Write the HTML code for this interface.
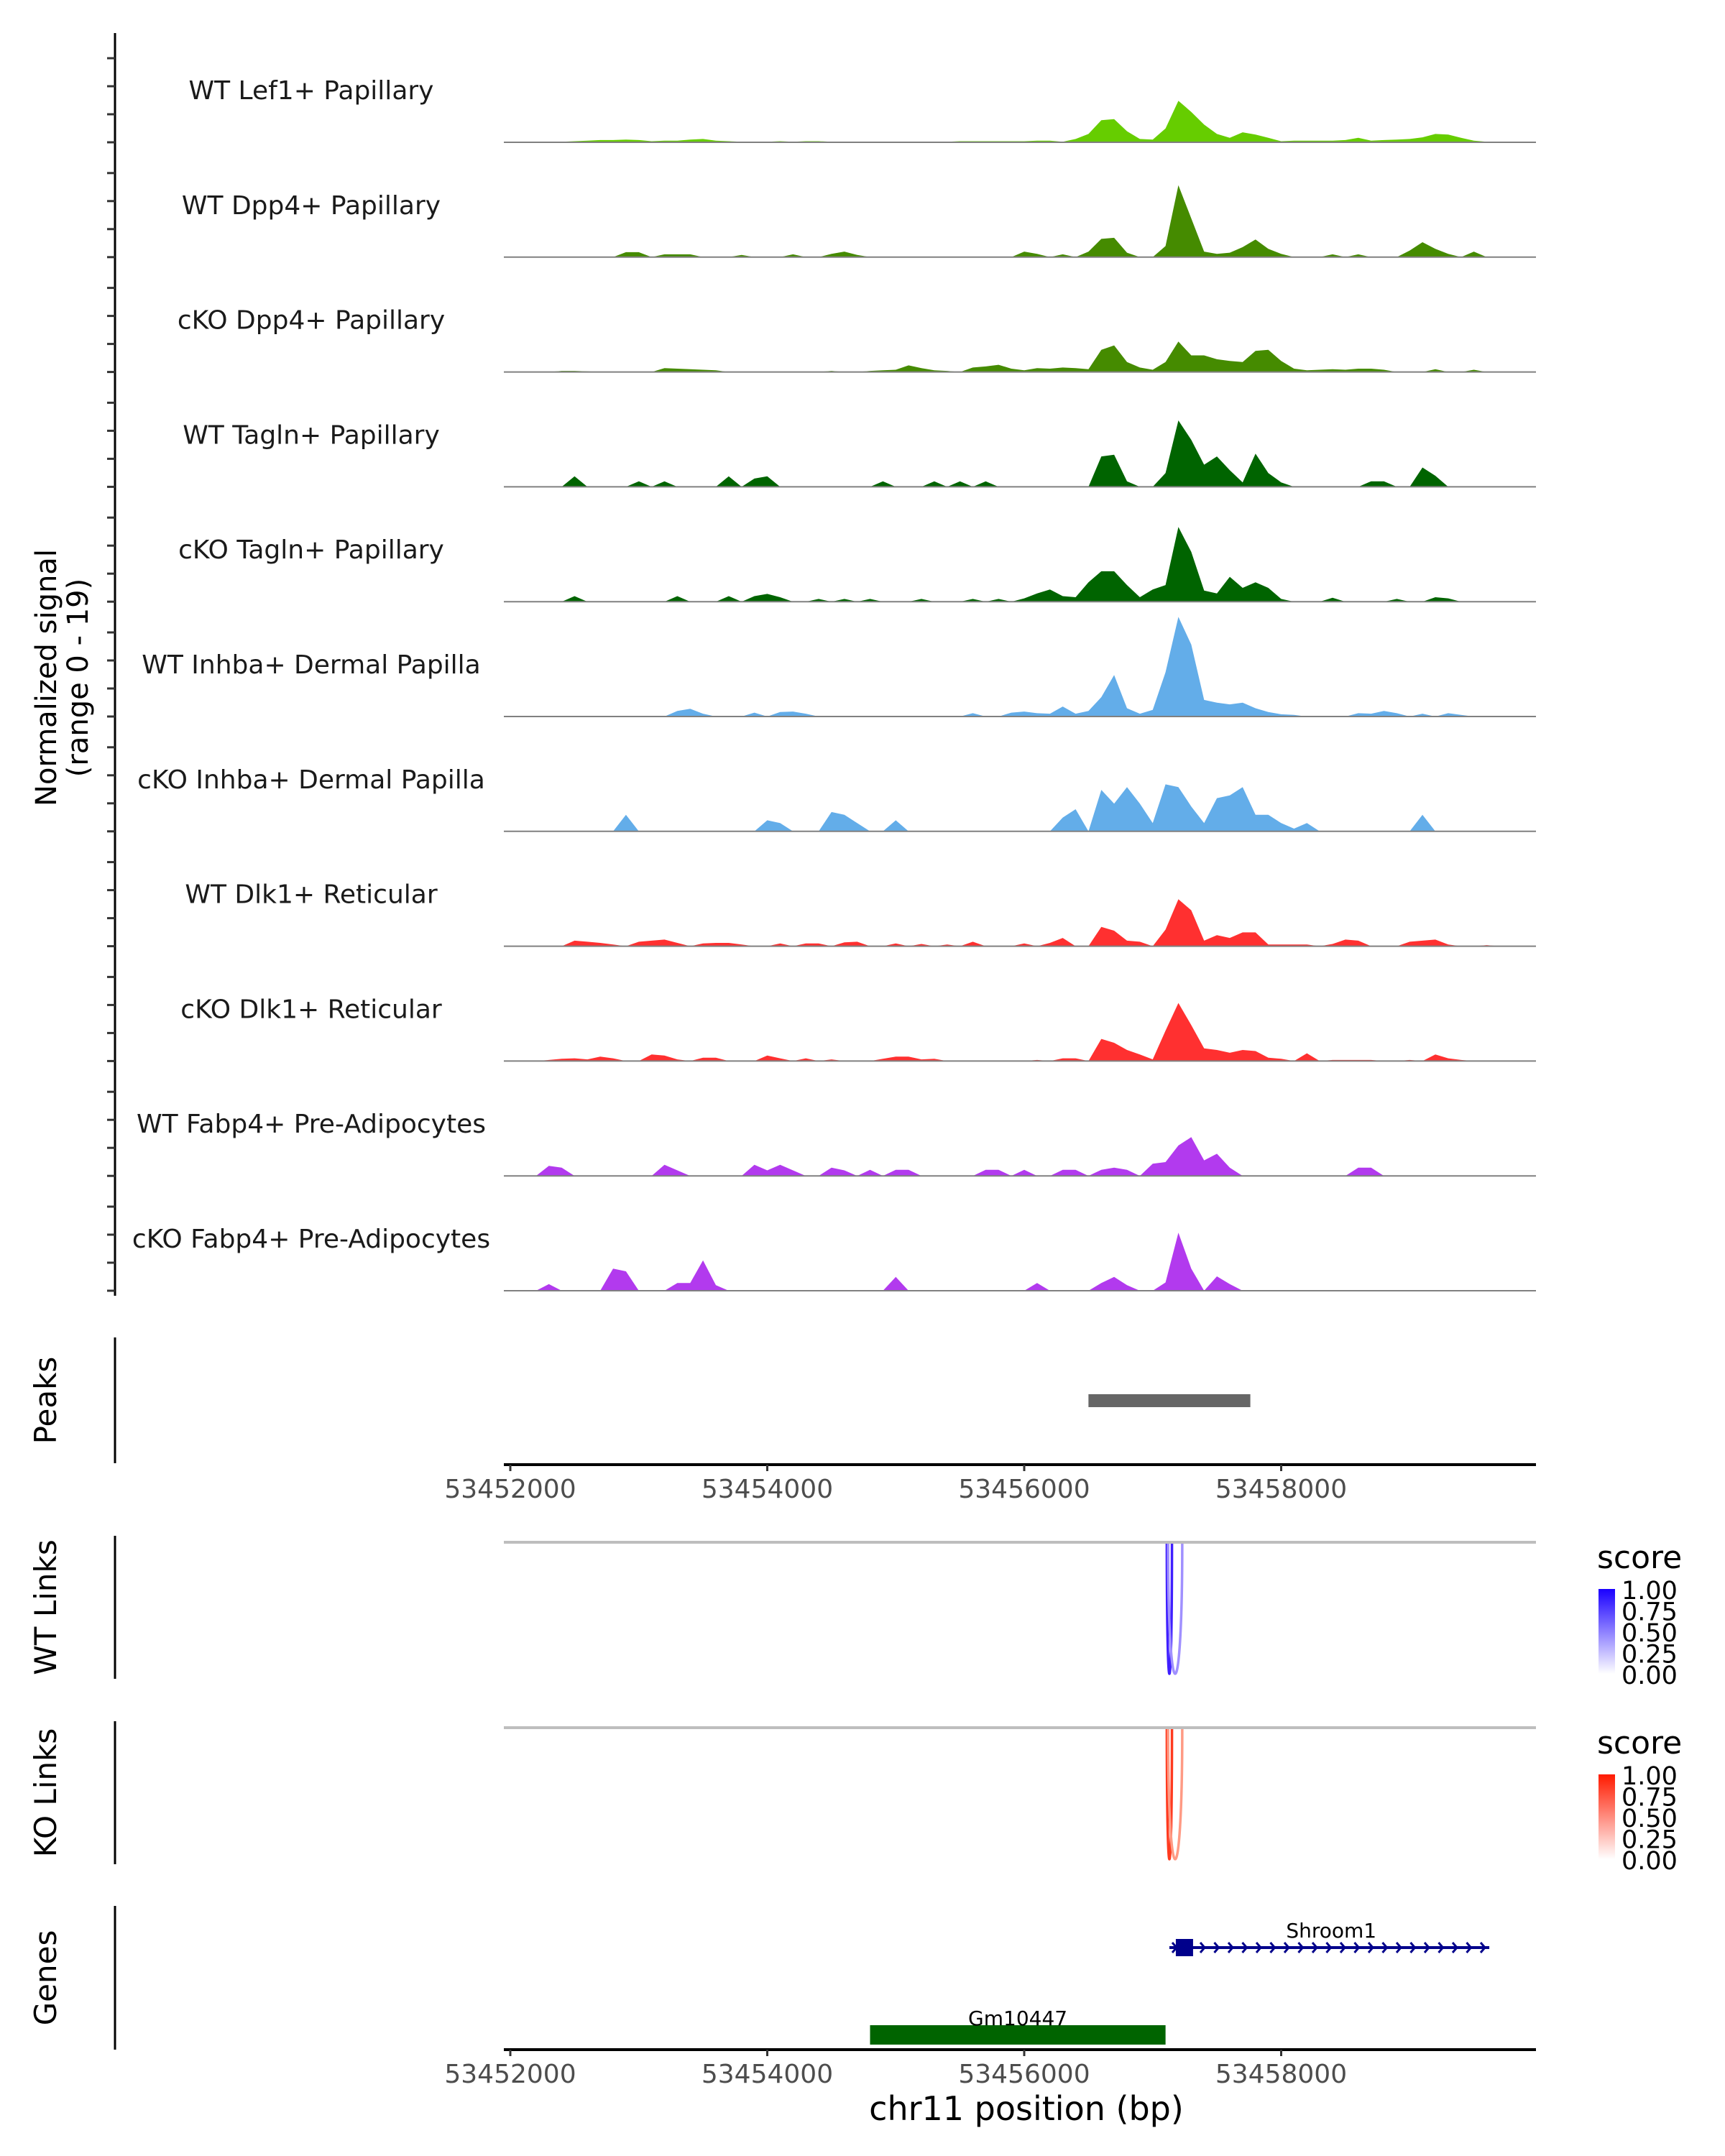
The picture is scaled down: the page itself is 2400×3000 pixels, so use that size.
<!DOCTYPE html>
<html><head><meta charset="utf-8"><style>
html,body{margin:0;padding:0;background:#fff;}
svg{display:block;font-family:"DejaVu Sans","Liberation Sans",sans-serif;}
</style></head><body>
<svg id="chart" width="2400" height="3000" viewBox="0 0 2400 3000" xmlns="http://www.w3.org/2000/svg">
<defs>
<linearGradient id="gBlue" x1="0" y1="1" x2="0" y2="0"><stop offset="0" stop-color="#ffffff"/><stop offset="1" stop-color="#1a00ff"/></linearGradient>
<linearGradient id="gRed" x1="0" y1="1" x2="0" y2="0"><stop offset="0" stop-color="#ffffff"/><stop offset="1" stop-color="#ff1a00"/></linearGradient>
</defs>
<g id="tracks"></g>
<g id="lower"></g>
</svg>
<script>
const trackNames = ["WT Lef1+ Papillary","WT Dpp4+ Papillary","cKO Dpp4+ Papillary","WT Tagln+ Papillary","cKO Tagln+ Papillary","WT Inhba+ Dermal Papilla","cKO Inhba+ Dermal Papilla","WT Dlk1+ Reticular","cKO Dlk1+ Reticular","WT Fabp4+ Pre-Adipocytes","cKO Fabp4+ Pre-Adipocytes"];
const binStart = 53452000;
const binSize = 100;
const sigWtLef1 = [0,0,0,0.1,0.1,0.2,0.3,0.4,0.4,0.5, 0.4,0.2,0.3,0.3,0.5,0.6,0.3,0.2,0.1,0.1, 0.1,0.2,0.1,0.2,0.2,0.1,0.1,0.1,0.1,0.1, 0.1,0.1,0.1,0.1,0.1,0.2,0.2,0.2,0.2,0.2, 0.2,0.3,0.3,0.1,0.6,1.5,4.0,4.2,2.0,0.6, 0.5,2.5,7.5,5.5,3.2,1.5,0.8,1.8,1.4,0.8, 0.2,0.3,0.3,0.3,0.3,0.4,0.8,0.3,0.4,0.5, 0.6,0.9,1.5,1.4,0.8,0.3,0.1,0];
const sigWtDpp4 = [0,0,0,0,0,0,0,0,0,0.9, 0.9,0,0.5,0.5,0.5,0,0,0,0.4,0, 0,0,0.5,0,0,0.6,1.0,0.4,0,0, 0,0,0,0,0,0,0,0,0,0, 1.0,0.6,0,0.5,0,1.0,3.3,3.5,0.8,0, 0,2.0,13.0,7.0,1.0,0.6,0.8,1.8,3.2,1.5, 0.6,0,0,0,0.5,0,0.5,0,0,0, 1.2,2.7,1.5,0.6,0,1.0,0,0];
const sigKoDpp4 = [0,0,0,0,0.2,0.2,0.1,0,0,0, 0,0,0.7,0.6,0.5,0.4,0.3,0,0,0, 0,0,0,0,0,0.2,0,0,0.2,0.3, 0.4,1.2,0.7,0.3,0.2,0,0.8,1.0,1.3,0.6, 0.3,0.7,0.6,0.8,0.7,0.5,4.0,4.8,1.8,0.8, 0.4,1.8,5.5,3.0,3.0,2.3,2.0,1.8,3.8,4.0, 2.0,0.6,0.3,0.4,0.5,0.4,0.6,0.6,0.4,0, 0,0,0.5,0,0,0.4,0,0];
const sigWtTagln = [0,0,0,0,0,1.9,0,0,0,0, 1.0,0,1.0,0,0,0,0,1.9,0,1.5, 1.9,0,0,0,0,0,0,0,0,1.0, 0,0,0,1.0,0,1.0,0,1.0,0,0, 0,0,0,0,0,0,5.5,5.8,1.0,0, 0,2.5,12.0,8.5,4.0,5.5,3.0,0.8,6.0,2.5, 0.8,0,0,0,0,0,0,1.0,1.0,0, 0,3.5,2.0,0,0,0,0,0];
const sigKoTagln = [0,0,0,0,0,1.0,0,0,0,0, 0,0,0,1.0,0,0,0,1.0,0,1.0, 1.4,0.8,0,0,0.5,0,0.5,0,0.5,0, 0,0,0.5,0,0,0,0.5,0,0.5,0, 0.6,1.5,2.2,1.0,0.8,3.5,5.5,5.5,3.0,0.8, 2.2,3.0,13.5,9.0,2.0,1.5,4.5,2.5,3.5,2.5, 0.5,0,0,0,0.7,0,0,0,0,0.5, 0,0,0.8,0.6,0,0,0,0];
const sigWtInhba = [0,0,0,0,0,0,0,0,0,0, 0,0,0,1.0,1.4,0.5,0,0,0,0.7, 0,0.8,0.9,0.5,0,0,0,0,0,0, 0,0,0,0,0,0,0.6,0,0,0.7, 0.9,0.6,0.5,1.8,0.5,1.0,3.5,7.5,1.5,0.5, 1.2,8.0,18.0,13.0,3.0,2.5,2.2,2.5,1.5,0.8, 0.4,0.3,0,0,0,0,0.6,0.5,1.0,0.6, 0,0.5,0,0.6,0.3,0,0,0];
const sigKoInhba = [0,0,0,0,0,0,0,0,0,3.0, 0,0,0,0,0,0,0,0,0,0, 2.0,1.5,0,0,0,3.5,3.0,1.5,0,0, 2.0,0,0,0,0,0,0,0,0,0, 0,0,0,2.5,4.0,0,7.5,5.0,8.0,5.0, 1.5,8.5,8.0,4.5,1.5,6.0,6.5,8.0,3.0,3.0, 1.5,0.5,1.5,0,0,0,0,0,0,0, 0,3.0,0,0,0,0,0,0];
const sigWtDlk1 = [0,0,0,0,0,1.0,0.8,0.6,0.3,0, 0.8,1.0,1.2,0.6,0,0.5,0.6,0.6,0.3,0, 0,0.5,0,0.5,0.5,0,0.7,0.8,0,0, 0.5,0,0.4,0,0.3,0,0.8,0,0,0, 0.5,0,0.6,1.5,0,0,3.5,2.8,1.0,0.8, 0,3.0,8.5,6.5,1.0,2.0,1.5,2.5,2.5,0.3, 0.3,0.3,0.3,0,0.4,1.2,1.0,0,0,0, 0.8,1.0,1.2,0.3,0,0,0.2,0];
const sigKoDlk1 = [0,0,0,0.2,0.4,0.5,0.3,0.8,0.5,0, 0,1.2,1.0,0.3,0,0.6,0.6,0,0,0, 1.0,0.5,0,0.5,0,0.3,0,0,0,0.4, 0.8,0.8,0.3,0.4,0,0,0,0,0,0, 0,0.2,0,0.5,0.5,0,4.0,3.3,2.0,1.2, 0.3,5.5,10.5,6.5,2.3,2.0,1.5,2.0,1.8,0.6, 0.4,0,1.4,0,0.2,0.2,0.2,0.2,0,0, 0.2,0,1.2,0.5,0.2,0,0,0];
const sigWtFabp4 = [0,0,0,1.8,1.5,0,0,0,0,0, 0,0,2.0,1.0,0,0,0,0,0,2.0, 1.0,2.0,1.0,0,0,1.5,1.0,0,1.1,0, 1.1,1.1,0,0,0,0,0,1.1,1.1,0, 1.1,0,0,1.1,1.1,0,1.1,1.5,1.1,0, 2.2,2.5,5.5,7.0,2.8,4.0,1.5,0,0,0, 0,0,0,0,0,0,1.5,1.5,0,0, 0,0,0,0,0,0,0,0];
const sigKoFabp4 = [0,0,0,1.2,0,0,0,0,4.0,3.5, 0,0,0,1.4,1.4,5.5,1.0,0,0,0, 0,0,0,0,0,0,0,0,0,0, 2.5,0,0,0,0,0,0,0,0,0, 0,1.4,0,0,0,0,1.4,2.5,1.0,0, 0,1.5,10.5,4.0,0,2.6,1.2,0,0,0, 0,0,0,0,0,0,0,0,0,0, 0,0,0,0,0,0,0,0];
const xTicks = [53452000,53454000,53456000,53458000];
const peakRanges = [[53456500,53457760]];
const legendTicks = ["1.00","0.75","0.50","0.25","0.00"];
const wtLinks = [[53457110,53457150,1.0],[53457120,53457230,0.55]];
const koLinks = [[53457110,53457150,1.0],[53457120,53457230,0.55]];

const series = [sigWtLef1,sigWtDpp4,sigKoDpp4,sigWtTagln,sigKoTagln,sigWtInhba,sigKoInhba,sigWtDlk1,sigKoDlk1,sigWtFabp4,sigKoFabp4];
const colors = ["#66cd00","#458b00","#458b00","#006400","#006400","#63ade9","#63ade9","#ff3030","#ff3030","#b23aee","#b23aee"];
const NS="http://www.w3.org/2000/svg";
const X0=710, PXBP=357.5/2000, PL=701, PR=2137;
function xs(bp){return X0+(bp-53452000)*PXBP;}
const UNIT=7.7, BASE0=198, STEP=159.8;
function el(tag,attrs,parent){const e=document.createElementNS(NS,tag);for(const k in attrs)e.setAttribute(k,attrs[k]);parent.appendChild(e);return e;}
const T=document.getElementById('tracks'), L=document.getElementById('lower');

let ax=el('line',{x1:160,y1:46,x2:160,y2:1803,stroke:'#000','stroke-width':3},T);


series.forEach((vals,ti)=>{
  const base=BASE0+ti*STEP;
  for(let k=0;k<4;k++){
    const t=el('line',{x1:149,x2:160,y1:base-k*39,y2:base-k*39,stroke:'#333','stroke-width':3},T);
    
    
  }
  let d='M'+xs(binStart).toFixed(1)+','+base;
  vals.forEach((v,i)=>{d+=' L'+xs(binStart+i*binSize).toFixed(1)+','+(base-v*UNIT).toFixed(1);});
  d+=' L'+xs(binStart+(vals.length-1)*binSize).toFixed(1)+','+base+' Z';
  const p=el('path',{d:d,fill:colors[ti]},T);
  
  
  const bl=el('line',{x1:PL,x2:PR,y1:base,y2:base,stroke:'#808080','stroke-width':2},T);
  
  
  const lab=el('text',{x:433,y:base-60,'font-size':36,'text-anchor':'middle',fill:'#1a1a1a'},T);
  lab.textContent=trackNames[ti];
  
  
});
let yt=el('text',{transform:'translate(78,943) rotate(-90)','font-size':40,'text-anchor':'middle',fill:'#000'},T);


el('tspan',{x:0,dy:0},yt).textContent='Normalized signal';
el('tspan',{x:0,dy:44},yt).textContent='(range 0 - 19)';

function panelAxis(y1,y2,label,name){
  const a=el('line',{x1:160,x2:160,y1:y1,y2:y2,stroke:'#000','stroke-width':3},L);
  
  
  const t=el('text',{transform:'translate(78,'+((y1+y2)/2)+') rotate(-90)','font-size':42,'text-anchor':'middle',fill:'#000'},L);
  t.textContent=label;
  
  
}
function xAxis(y,name){
  const a=el('line',{x1:PL,x2:PR,y1:y,y2:y,stroke:'#000','stroke-width':4},L);
  
  
  xTicks.forEach(v=>{
    const t=el('line',{x1:xs(v),x2:xs(v),y1:y,y2:y+9,stroke:'#333','stroke-width':3},L);
    
    
    const l=el('text',{x:xs(v),y:y+46,'font-size':36,'text-anchor':'middle',fill:'#4d4d4d'},L);
    l.textContent=String(v);
    
    
  });
}
panelAxis(1861,2036,'Peaks','peaks');
peakRanges.forEach(r=>{
  const b=el('rect',{x:xs(r[0]),y:1940,width:xs(r[1])-xs(r[0]),height:18,fill:'#666666'},L);
  
  
});
xAxis(2038,'peaks-x-axis');

function linksPanel(y1,y2,label,name,links,hi,grad){
  panelAxis(y1,y2,label,name);
  const gl=el('line',{x1:PL,x2:PR,y1:y1+9,y2:y1+9,stroke:'#bebebe','stroke-width':4},L);
  
  
  const top=y1+11, depth=y2-7;
  const c=top+(depth-top)/0.75;
  links.forEach(lk=>{
    const a=xs(lk[0]),b=xs(lk[1]);
    const col=lk[2]>0.8?hi[0]:hi[1];
    const p=el('path',{d:`M${a},${top} C${a},${c} ${b},${c} ${b},${top}`,fill:'none',stroke:col,'stroke-width':3.5},L);
    
    
  });
  const lt=el('text',{x:2222,y:y1+45,'font-size':44,fill:'#000'},L);
  lt.textContent='score';
  
  
  const cb=el('rect',{x:2224,y:y1+74,width:23,height:118,fill:'url(#'+grad+')'},L);
  
  
  legendTicks.forEach((t,i)=>{
    const tx=el('text',{x:2256,y:y1+88+i*29.5,'font-size':35,fill:'#000'},L);
    tx.textContent=t;
    
    
  });
}
linksPanel(2137,2336,'WT Links','wt-links',wtLinks,['#3f1fff','#a090ff'],'gBlue');
linksPanel(2395,2594,'KO Links','ko-links',koLinks,['#ff3a1f','#ff9a84'],'gRed');

panelAxis(2652,2852,'Genes','genes');
let sl=el('line',{x1:xs(53457130),x2:xs(53459620),y1:2710,y2:2710,stroke:'#00008b','stroke-width':4},L);


for(let x=xs(53457130)+4;x<xs(53459620);x+=19.5){
  const c=el('path',{d:`M${x},${2703} L${x+6},${2710} L${x},${2717}`,fill:'none',stroke:'#00008b','stroke-width':3},L);
  
  
}
let sb=el('rect',{x:xs(53457180),y:2698,width:24,height:24,fill:'#00008b'},L);


let st=el('text',{x:xs(53458390),y:2696,'font-size':28,'text-anchor':'middle',fill:'#000'},L);
st.textContent='Shroom1';


let gr=el('rect',{x:xs(53454800),y:2818,width:xs(53457100)-xs(53454800),height:27,fill:'#006400'},L);


let gt=el('text',{x:xs(53455950),y:2818,'font-size':28,'text-anchor':'middle',fill:'#000'},L);
gt.textContent='Gm10447';


xAxis(2852,'genes-x-axis');
let xt=el('text',{x:1428,y:2950,'font-size':46,'text-anchor':'middle',fill:'#000'},L);
xt.textContent='chr11 position (bp)';


</script>
</body></html>
